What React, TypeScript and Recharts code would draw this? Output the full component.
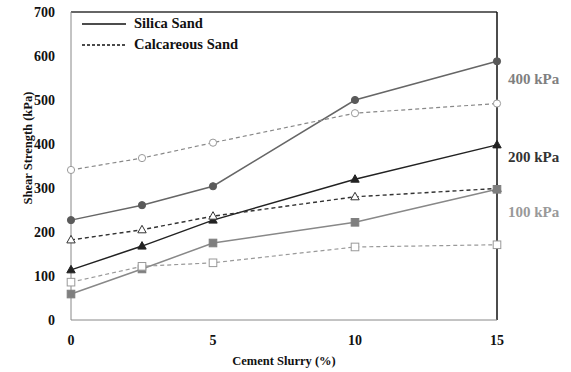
import { Line, LineChart, ReferenceLine, XAxis, YAxis, Label } from "recharts";

const slurry = [0, 2.5, 5, 10, 15];
const silica400 = [227, 261, 304, 500, 588];
const calc400 = [341, 368, 403, 470, 492];
const silica200 = [114, 168, 227, 320, 398];
const calc200 = [182, 205, 236, 280, 299];
const silica100 = [59, 116, 175, 222, 297];
const calc100 = [86, 122, 130, 166, 171];
const yTicks = [0, 100, 200, 300, 400, 500, 600, 700];
const xTicks = [0, 5, 10, 15];

const data = slurry.map((x, i) => ({
  x,
  s400: silica400[i],
  c400: calc400[i],
  s200: silica200[i],
  c200: calc200[i],
  s100: silica100[i],
  c100: calc100[i],
}));

const FONT = "Liberation Serif";
const tick = { fill: "#111", fontSize: 14, fontWeight: 700, fontFamily: FONT };
const title = { fill: "#111", fontSize: 12.5, fontWeight: 700, fontFamily: FONT };

const marker = (shape: string, color: string, filled: boolean) => (p: any) => {
  const { cx, cy, index } = p;
  if (cx == null || cy == null) return <g key={index} />;
  const fill = filled ? color : "#fff";
  if (shape === "circle")
    return <circle key={index} cx={cx} cy={cy} r={3.6} fill={fill} stroke={color} strokeWidth={1} />;
  if (shape === "square")
    return <rect key={index} x={cx - 3.8} y={cy - 3.8} width={7.6} height={7.6} fill={fill} stroke={color} strokeWidth={1} />;
  return (
    <path key={index} d={`M${cx},${cy - 4.5}L${cx + 4.2},${cy + 3}L${cx - 4.2},${cy + 3}Z`}
      fill={fill} stroke={color} strokeWidth={1} />
  );
};

// y-axis title sits a bit above the axis middle, as in the original figure
const yTitle = (props: any) => {
  const vb = props.viewBox || { x: 0, y: 0, width: 0, height: 0 };
  const x = vb.x + 32;
  const y = vb.y + vb.height / 2 - 18;
  return (
    <text x={x} y={y} transform={`rotate(-90, ${x}, ${y})`} textAnchor="middle" style={title}>
      Shear Strength (kPa)
    </text>
  );
};

const sideLabel = (text: string, top: number, color: string) => (
  <div style={{ position: "absolute", left: 508, top, color, fontFamily: FONT, fontWeight: 700, fontSize: 15 }}>
    {text}
  </div>
);

export default function App() {
  return (
    <div style={{ position: "absolute", left: 0, top: 0, width: 571, height: 372, background: "#fff", fontFamily: FONT }}>
      <LineChart width={571} height={372} data={data} style={{ fontFamily: FONT }}
        margin={{ top: 12, right: 74, left: 0, bottom: 20 }}>
        <XAxis dataKey="x" type="number" domain={[0, 15]} ticks={xTicks} tick={tick} tickLine={false}
          stroke="#888" tickMargin={9} height={32}>
          <Label value="Cement Slurry (%)" position="insideBottom" offset={-13} fontFamily={FONT} style={title} />
        </XAxis>
        <YAxis type="number" domain={[0, 700]} ticks={yTicks} tick={tick} tickLine={false}
          stroke="#888" width={71} tickMargin={10}>
          <Label content={yTitle} />
        </YAxis>
        <ReferenceLine y={700} stroke="#333" strokeWidth={1.5} />
        <ReferenceLine x={15} stroke="#111" strokeWidth={1.5} />
        <Line dataKey="s400" stroke="#666" strokeWidth={1.5} isAnimationActive={false} dot={marker("circle", "#5a5a5a", true)} />
        <Line dataKey="c400" stroke="#888" strokeWidth={1.2} strokeDasharray="4 3" isAnimationActive={false} dot={marker("circle", "#999", false)} />
        <Line dataKey="s200" stroke="#222" strokeWidth={1.5} isAnimationActive={false} dot={marker("triangle", "#222", true)} />
        <Line dataKey="c200" stroke="#333" strokeWidth={1.4} strokeDasharray="4 3" isAnimationActive={false} dot={marker("triangle", "#333", false)} />
        <Line dataKey="s100" stroke="#888" strokeWidth={1.5} isAnimationActive={false} dot={marker("square", "#7f7f7f", true)} />
        <Line dataKey="c100" stroke="#999" strokeWidth={1.2} strokeDasharray="4 3" isAnimationActive={false} dot={marker("square", "#999", false)} />
      </LineChart>
      <div style={{ position: "absolute", left: 82, top: 13, fontWeight: 700, fontSize: 14.5, color: "#111" }}>
        <div style={{ display: "flex", alignItems: "center", height: 21 }}>
          <svg width={44} height={4}><line x1={0} y1={2} x2={44} y2={2} stroke="#111" strokeWidth={1.5} /></svg>
          <span style={{ marginLeft: 8 }}>Silica Sand</span>
        </div>
        <div style={{ display: "flex", alignItems: "center", height: 21 }}>
          <svg width={44} height={4}><line x1={0} y1={2} x2={44} y2={2} stroke="#111" strokeWidth={1.5} strokeDasharray="3 2" /></svg>
          <span style={{ marginLeft: 8 }}>Calcareous Sand</span>
        </div>
      </div>
      {sideLabel("400 kPa", 71, "#7f7f7f")}
      {sideLabel("200 kPa", 149, "#333")}
      {sideLabel("100 kPa", 204, "#999")}
    </div>
  );
}
